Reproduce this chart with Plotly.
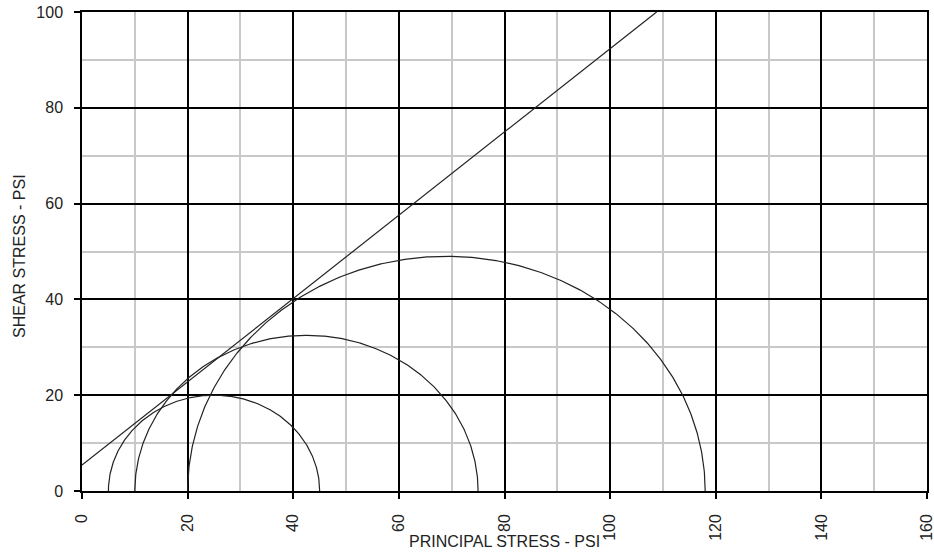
import numpy as np
import plotly.graph_objects as go

# Mohr circles: minor (sigma3) and major (sigma1) principal stresses, psi
sigma3 = [5, 10, 20]
sigma1 = [45, 75, 118]

# Failure envelope end points (principal stress, shear stress)
envelope_x = [0, 108.8]
envelope_y = [5.4, 100]

x_ticks = [0, 20, 40, 60, 80, 100, 120, 140, 160]
y_ticks = [0, 20, 40, 60, 80, 100]

fig = go.Figure()

theta = np.linspace(0, np.pi, 400)
for s3, s1 in zip(sigma3, sigma1):
    c = (s1 + s3) / 2
    r = (s1 - s3) / 2
    fig.add_trace(go.Scatter(x=c + r * np.cos(theta), y=r * np.sin(theta),
                             mode="lines", line=dict(color="#222222", width=1.2),
                             hoverinfo="skip", showlegend=False))

fig.add_trace(go.Scatter(x=envelope_x, y=envelope_y, mode="lines",
                         line=dict(color="#222222", width=1.2),
                         hoverinfo="skip", showlegend=False))

FAM = "Liberation Sans, Arial, sans-serif"
tick_font = dict(family=FAM, size=16, color="#222222")
title_font = dict(family=FAM, size=16, color="#222222")

L, R, T, B = 82, 7, 12, 63
W, H = 934, 554
pw, ph = W - L - R, H - T - B

fig.update_layout(
    width=W, height=H,
    margin=dict(l=L, r=R, t=T, b=B, autoexpand=False),
    paper_bgcolor="white", plot_bgcolor="white",
    showlegend=False,
    xaxis=dict(range=[0, 160], tickvals=x_ticks, ticktext=[str(v) for v in x_ticks],
               tickangle=-90, ticks="outside", ticklen=6, tickcolor="black", tickwidth=1.5,
               tickfont=tick_font, ticklabelstandoff=9, automargin=False,
               ticklabeloverflow="allow",
               showline=True, linecolor="black", linewidth=1.5, mirror=True,
               showgrid=True, gridcolor="black", gridwidth=1.5,
               minor=dict(dtick=10, tick0=0, showgrid=True, gridcolor="#c8c8c8", gridwidth=1.5),
               zeroline=False),
    yaxis=dict(range=[0, 100], tickvals=y_ticks, ticktext=[str(v) for v in y_ticks],
               ticks="outside", ticklen=6, tickcolor="black", tickwidth=1.5,
               tickfont=tick_font, ticklabelstandoff=8, automargin=False,
               ticklabeloverflow="allow",
               showline=True, linecolor="black", linewidth=1.5, mirror=True,
               showgrid=True, gridcolor="black", gridwidth=1.5,
               minor=dict(dtick=10, tick0=0, showgrid=True, gridcolor="#c8c8c8", gridwidth=1.5),
               zeroline=False),
    annotations=[
        dict(text="PRINCIPAL STRESS - PSI", xref="paper", yref="paper",
             x=0.5, y=-50 / ph, xanchor="center", yanchor="middle",
             showarrow=False, font=title_font),
        dict(text="SHEAR STRESS - PSI", xref="paper", yref="paper",
             x=-62 / pw, y=(491 - 256) / ph, xanchor="center", yanchor="middle",
             textangle=-90, showarrow=False, font=title_font),
    ],
)

fig.write_html("out.html", config={"displayModeBar": False},
               post_script="document.body.style.margin='0';document.body.style.overflow='hidden';")
